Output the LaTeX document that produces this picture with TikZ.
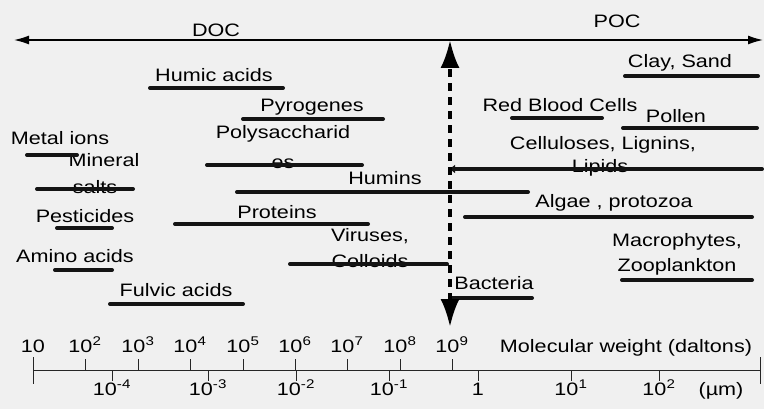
\documentclass[tikz,border=0pt]{standalone}
\usepackage{fontspec}
\setmainfont{Liberation Sans}
\usetikzlibrary{arrows.meta}
\begin{document}
\begin{tikzpicture}[x=1pt, y=-1pt,
  lbl/.style={font=\fontsize{18}{20}\selectfont, xscale=1.2, inner sep=0pt, anchor=base, text=black},
  bar/.style={line width=4pt, line cap=round, black!92},
  tck/.style={line width=1pt, black!85}]
\fill[black!6] (0,0) rectangle (764,409);
\useasboundingbox (0,0) rectangle (764,409);
% DOC / POC
\coordinate (docend) at (14,40);
\coordinate (pocend) at (763,40);
\draw[line width=1.3pt, {Latex[length=15pt,width=9pt]}-{Latex[length=15pt,width=9pt]}] (docend) -- (pocend);
\node[lbl] (doc) at (216,37) {DOC};
\node[lbl] (poc) at (617,28) {POC};
% left column
\node[lbl] (humic) at (214,82) {Humic acids};
\node[lbl] (pyro) at (312,112) {Pyrogenes};
\node[lbl] (metal) at (60,145) {Metal ions};
\node[lbl] (mineral) at (104,167) {Mineral};
\node[lbl] (salts) at (95,194) {salts};
\node[lbl] (poly) at (283,139) {Polysaccharid};
\node[lbl] (polyes) at (283,169) {es};
\node[lbl] (humins) at (385,185) {Humins};
\node[lbl] (pest) at (85,223) {Pesticides};
\node[lbl] (prot) at (277,219) {Proteins};
\node[lbl] (vir) at (370,242) {Viruses,};
\node[lbl] (coll) at (370,267) {Colloids};
\node[lbl] (amino) at (75,262) {Amino acids};
\node[lbl] (fulvic) at (176,297) {Fulvic acids};
% right column
\node[lbl] (clay) at (680,68) {Clay, Sand};
\node[lbl] (rbc) at (560,112) {Red Blood Cells};
\node[lbl] (pollen) at (676,123) {Pollen};
\node[lbl] (cell) at (603,150) {Celluloses, Lignins,};
\node[lbl] (lipids) at (600,173) {Lipids};
\node[lbl] (algae) at (614,208) {Algae , protozoa};
\node[lbl] (macro) at (677,247) {Macrophytes,};
\node[lbl] (zoo) at (677,272) {Zooplankton};
\node[lbl] (bact) at (494,289) {Bacteria};
% size ranges
\draw[bar] (150,88) -- (283,88);
\draw[bar] (243,119) -- (383,119);
\draw[bar] (27,155) -- (77,155);
\draw[bar] (37,189) -- (133,189);
\draw[bar] (207,165) -- (362,165);
\draw[bar] (237,192) -- (528,192);
\draw[bar] (57,228) -- (112,228);
\draw[bar] (175,224) -- (368,224);
\draw[bar] (290,264) -- (447,264);
\draw[bar] (55,270) -- (112,270);
\draw[bar] (110,304) -- (243,304);
\draw[bar] (625,76) -- (758,76);
\draw[bar] (512,118) -- (602,118);
\draw[bar] (623,128) -- (757,128);
\draw[bar, {Latex[length=6pt,width=9pt]}-] (449,169) -- (762,169);
\draw[bar] (465,217) -- (752,217);
\draw[bar] (622,280) -- (752,280);
\draw[bar] (452,298) -- (532,298);
% 10^9 limit
\coordinate (dtop) at (450,40);
\coordinate (dbot) at (450,327);
\draw[line width=3.5pt, dash pattern=on 8pt off 6pt, {Latex[length=28pt,width=19pt]}-{Latex[length=28pt,width=19pt]}] (dbot) -- (dtop);
% scale
\coordinate (axl) at (33,370);
\coordinate (axr) at (760,370);
\draw[tck] (axl) -- (axr);
\draw[tck] (33,357) -- (33,384);
\draw[tck] (760,357) -- (760,384);
\node[lbl] (mw1) at (33,352) {10};
\draw[tck] (85,370) -- (85,359); \node[lbl] (mw2) at (85,352) {10\textsuperscript{2}};
\draw[tck] (138,370) -- (138,359); \node[lbl] (mw3) at (138,352) {10\textsuperscript{3}};
\draw[tck] (190,370) -- (190,359); \node[lbl] (mw4) at (190,352) {10\textsuperscript{4}};
\draw[tck] (243,370) -- (243,359); \node[lbl] (mw5) at (243,352) {10\textsuperscript{5}};
\draw[tck] (295,370) -- (295,359); \node[lbl] (mw6) at (295,352) {10\textsuperscript{6}};
\draw[tck] (347,370) -- (347,359); \node[lbl] (mw7) at (347,352) {10\textsuperscript{7}};
\draw[tck] (400,370) -- (400,359); \node[lbl] (mw8) at (400,352) {10\textsuperscript{8}};
\draw[tck] (452,370) -- (452,359); \node[lbl] (mw9) at (452,352) {10\textsuperscript{9}};
\node[lbl] (mwlbl) at (626,352) {Molecular weight (daltons)};
\draw[tck] (112,370) -- (112,381); \node[lbl] (um4) at (112,395) {10\textsuperscript{-4}};
\draw[tck] (208,370) -- (208,381); \node[lbl] (um3) at (208,395) {10\textsuperscript{-3}};
\draw[tck] (296,370) -- (296,381); \node[lbl] (um2) at (296,395) {10\textsuperscript{-2}};
\draw[tck] (389,370) -- (389,381); \node[lbl] (um1) at (389,395) {10\textsuperscript{-1}};
\draw[tck] (478,370) -- (478,381); \node[lbl] (um0) at (478,395) {1};
\draw[tck] (571,370) -- (571,381); \node[lbl] (up1) at (571,395) {10\textsuperscript{1}};
\draw[tck] (659,370) -- (659,381); \node[lbl] (up2) at (659,395) {10\textsuperscript{2}};
\node[lbl] (umlbl) at (721,395) {(µm)};
\end{tikzpicture}
\end{document}
